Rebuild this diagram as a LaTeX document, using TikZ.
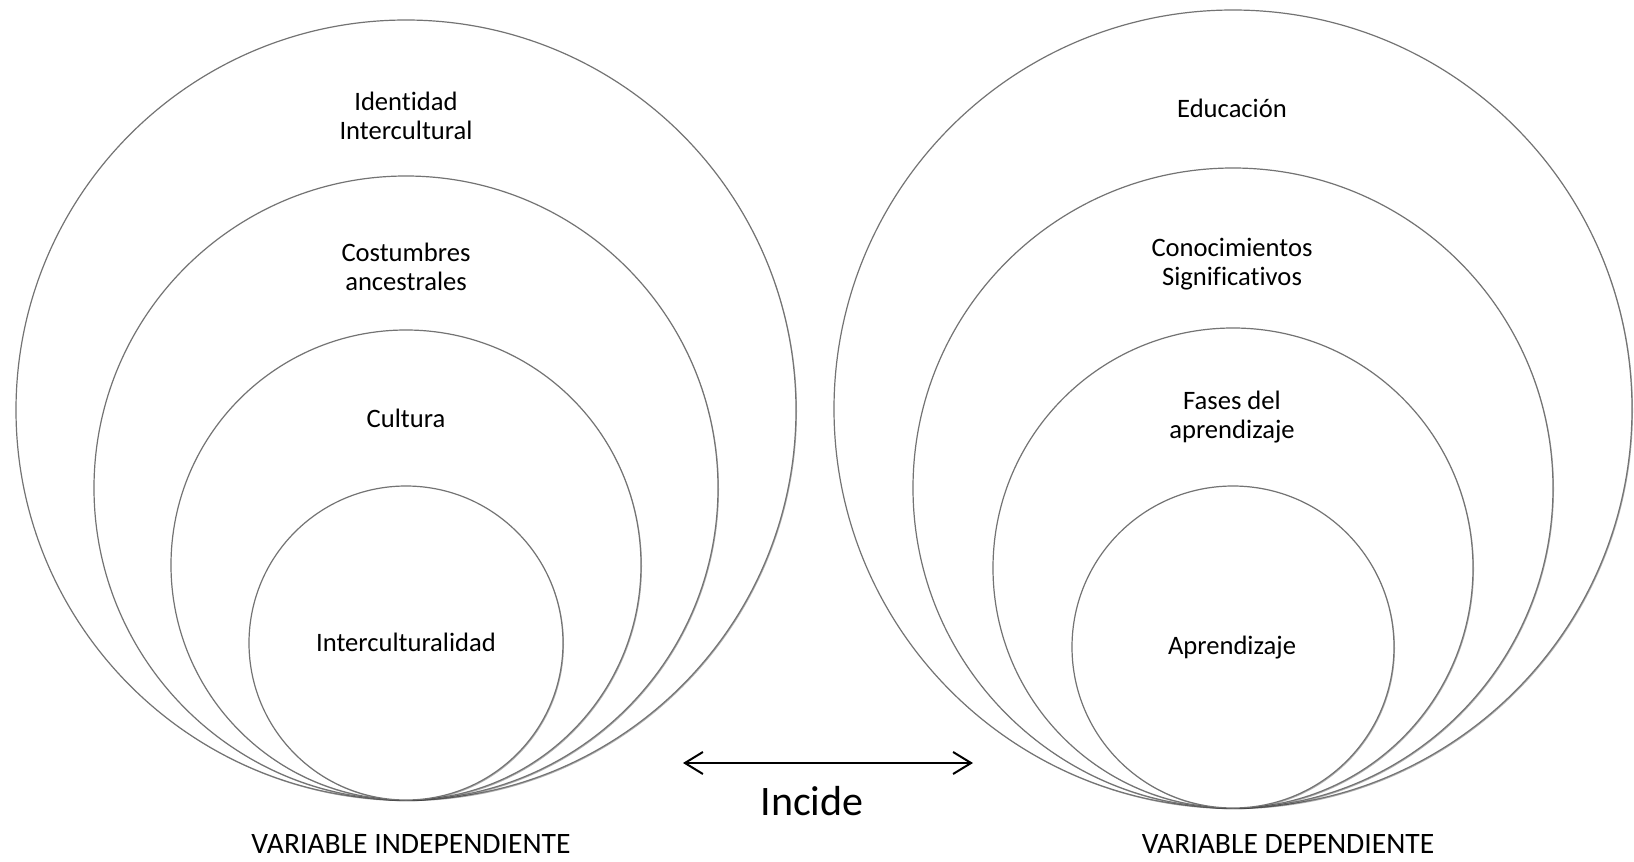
\documentclass[tikz,border=0pt]{standalone}
\usepackage{fontspec}
\setmainfont{Carlito}[Ligatures=NoCommon]
\usetikzlibrary{arrows.meta,shadows}
\begin{document}
\begin{tikzpicture}[x=0.5pt, y=-0.5pt,
    ring/.style={circle, draw=black!55, line width=0.6pt, fill=white, inner sep=0pt, outer sep=0pt,
      drop shadow={shadow xshift=0.5pt, shadow yshift=-0.6pt, opacity=0.3, fill=black}},
    txt/.style={align=center, inner sep=0pt, font=\fontsize{13.3}{14.5}\selectfont},
    vartxt/.style={inner sep=0pt, font=\fontsize{14.8}{17}\selectfont}]
    \useasboundingbox (0,0) rectangle (1634,862);

    % variable independiente
    \node[ring, minimum size=390pt] (identidad) at (406,410) {};
    \node[ring, minimum size=312pt] (costumbres) at (406,488) {};
    \node[ring, minimum size=235pt] (cultura) at (406,565) {};
    \node[ring, minimum size=157pt] (intercult) at (406,643) {};
    \node[txt] (tIdentidad) at (406,116) {Identidad\\Intercultural};
    \node[txt] (tCostumbres) at (406,267) {Costumbres\\ancestrales};
    \node[txt] (tCultura) at (406,418) {Cultura};
    \node[txt] (tIntercult) at (406,642) {Interculturalidad};
    \node[vartxt] (varInd) at (411,844) {VARIABLE INDEPENDIENTE};

    % variable dependiente
    \node[ring, minimum size=399pt] (educacion) at (1233,409) {};
    \node[ring, minimum size=320pt] (conocim) at (1233,488) {};
    \node[ring, minimum size=240pt] (fases) at (1233,568) {};
    \node[ring, minimum size=161pt] (aprend) at (1233,647) {};
    \node[txt] (tEducacion) at (1232,108) {Educación};
    \node[txt] (tConocim) at (1232,264) {Conocimientos\\Significativos};
    \node[txt] (tFases) at (1232,417) {Fases del\\aprendizaje};
    \node[txt] (tAprend) at (1232,648) {Aprendizaje};
    \node[vartxt] (varDep) at (1288,844) {VARIABLE DEPENDIENTE};

    % relacion
    \coordinate (arrL) at (683,763);
    \coordinate (arrR) at (973,763);
    \draw[line width=1pt, {Straight Barb[length=9pt, width=11pt]}-{Straight Barb[length=9pt, width=11pt]}] (arrL) -- (arrR);
    \node[inner sep=0pt, font=\fontsize{21}{25}\selectfont] (incide) at (812,801) {Incide};
\end{tikzpicture}
\end{document}
